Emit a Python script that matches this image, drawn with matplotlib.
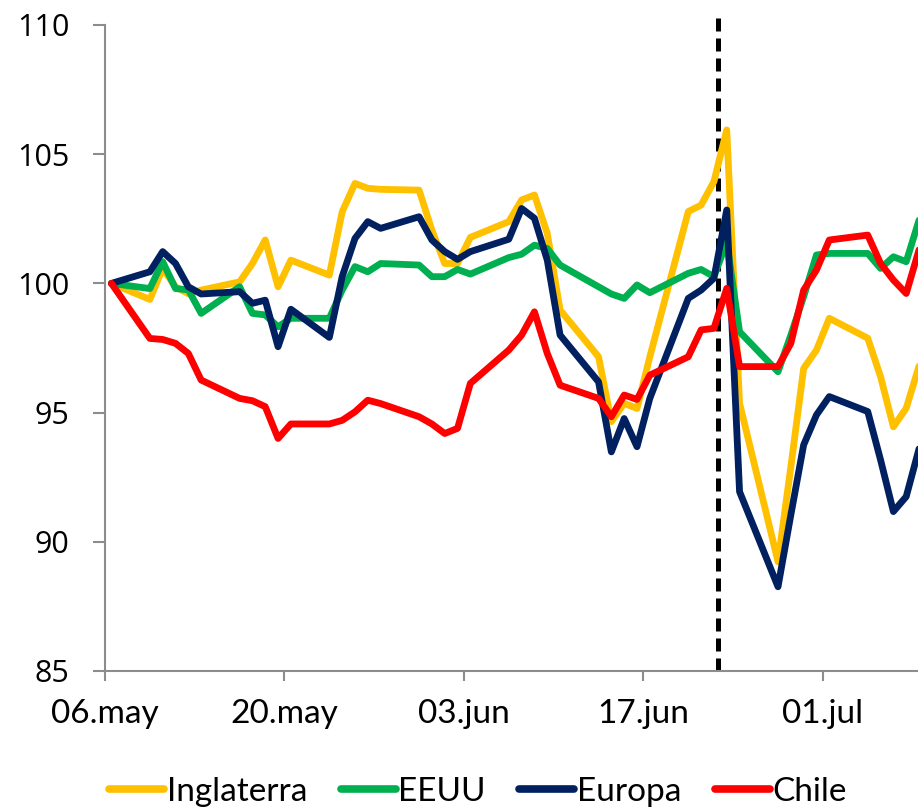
import matplotlib
matplotlib.use('Agg')
import matplotlib.pyplot as plt
import pandas as pd

# business days shown in the chart
dates = pd.bdate_range('2016-05-06', '2016-07-08')

inglaterra = [100.0,
              99.38, 100.58, 99.87, 99.6, 99.74,
              100.06, 100.77, 101.68, 99.87, 100.9,
              100.32, 102.77, 103.87, 103.68, 103.64,
              103.61, 102.06, 100.77, 100.77, 101.78,
              102.39, 103.23, 103.42, 101.94, 98.97,
              97.16, 94.65, 95.36, 95.16, 97.16,
              102.78, 103.03, 103.94, 105.94, 95.36,
              89.23, 92.9, 96.71, 97.42, 98.65,
              97.88, 96.39, 94.45, 95.17, 96.8]
eeuu = [100.0,
        99.8, 100.84, 99.8, 99.75, 98.84,
        99.87, 98.84, 98.78, 98.32, 98.65,
        98.65, 99.74, 100.65, 100.45, 100.77,
        100.71, 100.26, 100.26, 100.54, 100.36,
        101.0, 101.13, 101.48, 101.35, 100.71,
        99.87, 99.59, 99.42, 99.94, 99.64,
        100.39, 100.54, 100.26, 101.6, 98.13,
        96.58, 98.0, 99.49, 101.1, 101.16,
        101.16, 100.58, 101.03, 100.84, 102.45]
europa = [100.0,
          100.45, 101.23, 100.77, 99.87, 99.59,
          99.68, 99.23, 99.35, 97.55, 99.0,
          97.91, 100.26, 101.74, 102.39, 102.13,
          102.58, 101.68, 101.23, 100.93, 101.23,
          101.71, 102.9, 102.52, 100.9, 98.0,
          96.19, 93.48, 94.77, 93.68, 95.55,
          99.42, 99.74, 100.2, 102.84, 91.94,
          88.26, 91.04, 93.75, 94.91, 95.62,
          95.04, 93.17, 91.17, 91.75, 93.6]
chile = [100.0,
         97.87, 97.83, 97.68, 97.29, 96.26,
         95.55, 95.46, 95.23, 94.0, 94.56,
         94.56, 94.7, 95.03, 95.48, 95.35,
         94.84, 94.56, 94.19, 94.39, 96.13,
         97.42, 98.0, 98.9, 97.29, 96.06,
         95.55, 94.84, 95.68, 95.51, 96.45,
         97.16, 98.2, 98.26, 99.81, 96.78,
         96.78, 97.68, 99.74, 100.52, 101.68,
         101.87, 100.77, 100.13, 99.61, 101.3]

series_names = ['Inglaterra', 'EEUU', 'Europa', 'Chile']
colors = ['#FFC000', '#00B050', '#002060', '#FF0000']

xtick_dates = ['2016-05-06', '2016-05-20', '2016-06-03', '2016-06-17', '2016-07-01']
xtick_labels = ['06.may', '20.may', '03.jun', '17.jun', '01.jul']
yticks = [85, 90, 95, 100, 105, 110]

# brexit vote marker
event_x = pd.Timestamp('2016-05-06') + pd.Timedelta(days=47.81)

fig = plt.figure(figsize=(9.18, 8.1), dpi=100)
ax = fig.add_axes([105 / 918, 1 - 671 / 810, 1 - 105 / 918, (671 - 25) / 810])

# points sit in the middle of each day
x = dates + pd.Timedelta(hours=12)
lines = []
for vals, name, c in zip([inglaterra, eeuu, europa, chile], series_names, colors):
    ln, = ax.plot(x, vals, color=c, lw=4.9, label=name, zorder=3,
                  solid_capstyle='round', solid_joinstyle='round')
    lines.append(ln)

ax.plot([event_x, event_x], [85, 110.5], color='black', lw=3.6,
        linestyle=(0, (2.6, 1.4)), dash_capstyle='butt', clip_on=False, zorder=2)

ax.set_xlim(pd.Timestamp('2016-05-06'), pd.Timestamp('2016-05-06') + pd.Timedelta(days=63.42))
ax.set_ylim(85, 110)

ax.set_xticks(pd.to_datetime(xtick_dates))
ax.set_xticklabels(xtick_labels, fontfamily='Lato', fontsize=24)
ax.set_yticks(yticks)
ax.set_yticklabels([str(v) for v in yticks], fontfamily='Open Sans', fontsize=22)

ax.tick_params(axis='x', length=7, width=1.5, color='#8c8c8c', pad=13)
ax.tick_params(axis='y', length=8.6, width=1.5, color='#8c8c8c', pad=17)

for s in ['top', 'right']:
    ax.spines[s].set_visible(False)
for s in ['left', 'bottom']:
    ax.spines[s].set_color('#8c8c8c')
    ax.spines[s].set_linewidth(1.5)

leg = fig.legend(handles=lines, loc='center', bbox_to_anchor=(478 / 918, 1 - 792 / 810),
                 ncol=4, frameon=False, prop={'family': 'Lato', 'size': 24},
                 handlelength=1.65, handletextpad=0.08, columnspacing=1.0, borderpad=0)
for h in leg.legend_handles:
    h.set_linewidth(5.5)

fig.savefig('out.png', dpi=100)
